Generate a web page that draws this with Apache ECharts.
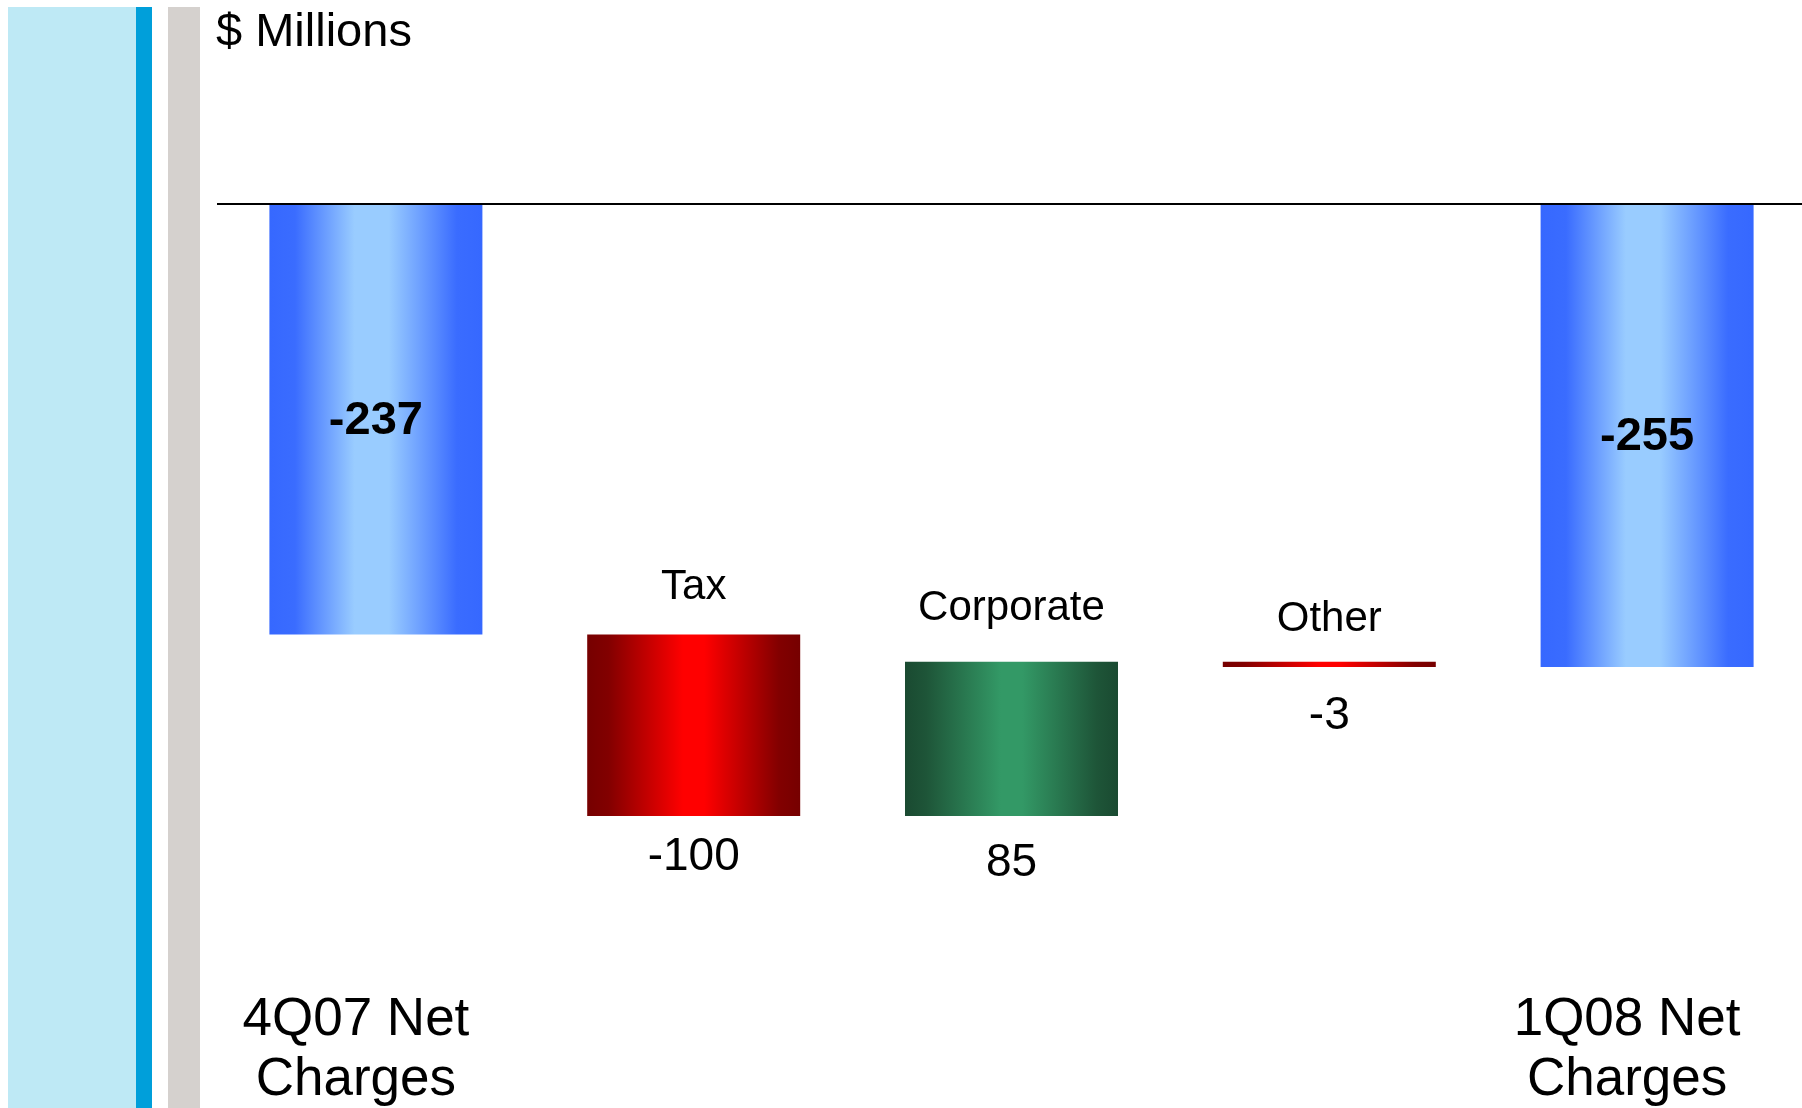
<!DOCTYPE html>
<html>
<head>
<meta charset="utf-8">
<script src="https://cdn.jsdelivr.net/npm/echarts@6/dist/echarts.min.js"></script>
<style>
html,body{margin:0;padding:0;background:#fff;}
#chart{width:1802px;height:1108px;}
#err{position:absolute;left:300px;top:100px;width:1400px;font:14px monospace;white-space:pre-wrap;color:#c00;}
</style>
</head>
<body>
<div id="chart"></div>
<div id="err"></div>
<script>
// ---- data ----
var categories = ['4Q07 Net Charges', 'Tax', 'Corporate', 'Other', '1Q08 Net Charges'];
var axisLabels = ['4Q07 Net\nCharges', '', '', '', '1Q08 Net\nCharges'];
var values = [-237, -100, 85, -3, -255];
var isTotal = [true, false, false, false, true];
var unitLabel = '$ Millions';

// ---- waterfall build ----
var baseData = [], barData = [];
var running = 0;
for (var i = 0; i < values.length; i++) {
  if (isTotal[i]) {
    baseData.push(0);
    barData.push(values[i]);
    running = values[i];
  } else {
    var next = running + values[i];
    var hi = Math.max(running, next), lo = Math.min(running, next);
    baseData.push(hi);
    barData.push(lo - hi);
    running = next;
  }
}

function grad(stops) {
  return new echarts.graphic.LinearGradient(0, 0, 1, 0,
    stops.map(function (s) { return {offset: s[0], color: s[1]}; }));
}
var blueStops = [[0, '#3668ff'], [0.12, '#3a6cff'], [0.4, '#99ccff'], [0.56, '#99ccff'], [0.88, '#3a6cff'], [1, '#3668ff']];
var redStops = [[0, '#760000'], [0.1, '#820000'], [0.45, '#ff0000'], [0.55, '#ff0000'], [0.9, '#820000'], [1, '#760000']];
var greenStops = [[0, '#1a4a31'], [0.1, '#1e5538'], [0.45, '#339966'], [0.55, '#339966'], [0.9, '#1e5538'], [1, '#1a4a31']];

var FONT = 'Liberation Sans, Arial, sans-serif';
var nameDist = [0, 26, 32, 21, 0];
var valDist = [0, 18, 24, 26, 0];

try {
var baseSeriesData = baseData.map(function (v, i) {
  return {
    value: v,
    label: isTotal[i] ? {show: false} : {show: true, position: 'insideBottom', distance: nameDist[i]}
  };
});
var barSeriesData = barData.map(function (v, i) {
  var stops = isTotal[i] ? blueStops : (values[i] < 0 ? redStops : greenStops);
  return {
    value: v,
    itemStyle: {color: grad(stops)},
    label: isTotal[i]
      ? {show: true, position: 'inside', offset: [0, 2], fontWeight: 'bold', fontSize: 47}
      : {show: true, position: 'bottom', distance: valDist[i], fontWeight: 'normal', fontSize: 46}
  };
});

var chart = echarts.init(document.getElementById('chart'));
chart.setOption({
  animation: false,
  backgroundColor: '#ffffff',
  graphic: [
    {type: 'rect', shape: {x: 8, y: 7, width: 128, height: 1101}, style: {fill: '#bee9f5'}, silent: true},
    {type: 'rect', shape: {x: 136, y: 7, width: 16, height: 1101}, style: {fill: '#009fda'}, silent: true},
    {type: 'rect', shape: {x: 168, y: 7, width: 32, height: 1101}, style: {fill: '#d5d1ce'}, silent: true},
    {type: 'text', x: 216, y: 10, style: {text: unitLabel, fontSize: 47, fontFamily: FONT, fill: '#000'}, silent: true}
  ],
  grid: {left: 217, top: 204, width: 1589, height: 726.4, outerBoundsMode: 'none', containLabel: false},
  xAxis: {
    type: 'category',
    data: categories,
    axisLine: {show: false},
    axisTick: {show: false},
    splitLine: {show: false},
    axisLabel: {
      interval: 0,
      margin: 60,
      fontSize: 53,
      lineHeight: 60,
      color: '#000',
      fontFamily: FONT,
      padding: [0, 40, 0, 0],
      formatter: function (val, idx) { return axisLabels[idx]; }
    }
  },
  yAxis: {
    type: 'value',
    min: -400,
    max: 0,
    show: false
  },
  series: [
    {
      type: 'bar',
      stack: 'wf',
      barWidth: 213,
      data: baseSeriesData,
      itemStyle: {color: 'rgba(0,0,0,0)'},
      label: {
        color: '#000', fontSize: 42, fontFamily: FONT,
        formatter: function (p) { return categories[p.dataIndex]; }
      },
      silent: true
    },
    {
      type: 'bar',
      stack: 'wf',
      barWidth: 213,
      data: barSeriesData,
      label: {
        color: '#000', fontFamily: FONT,
        formatter: function (p) { return String(values[p.dataIndex]); }
      },
      markLine: {
        silent: true,
        symbol: ['none', 'none'],
        label: {show: false},
        lineStyle: {color: '#000', width: 2, type: 'solid'},
        data: [{yAxis: 0}]
      }
    }
  ]
});
} catch (e) {
  document.getElementById('err').textContent = String(e && e.stack || e);
}
</script>
</body>
</html>
